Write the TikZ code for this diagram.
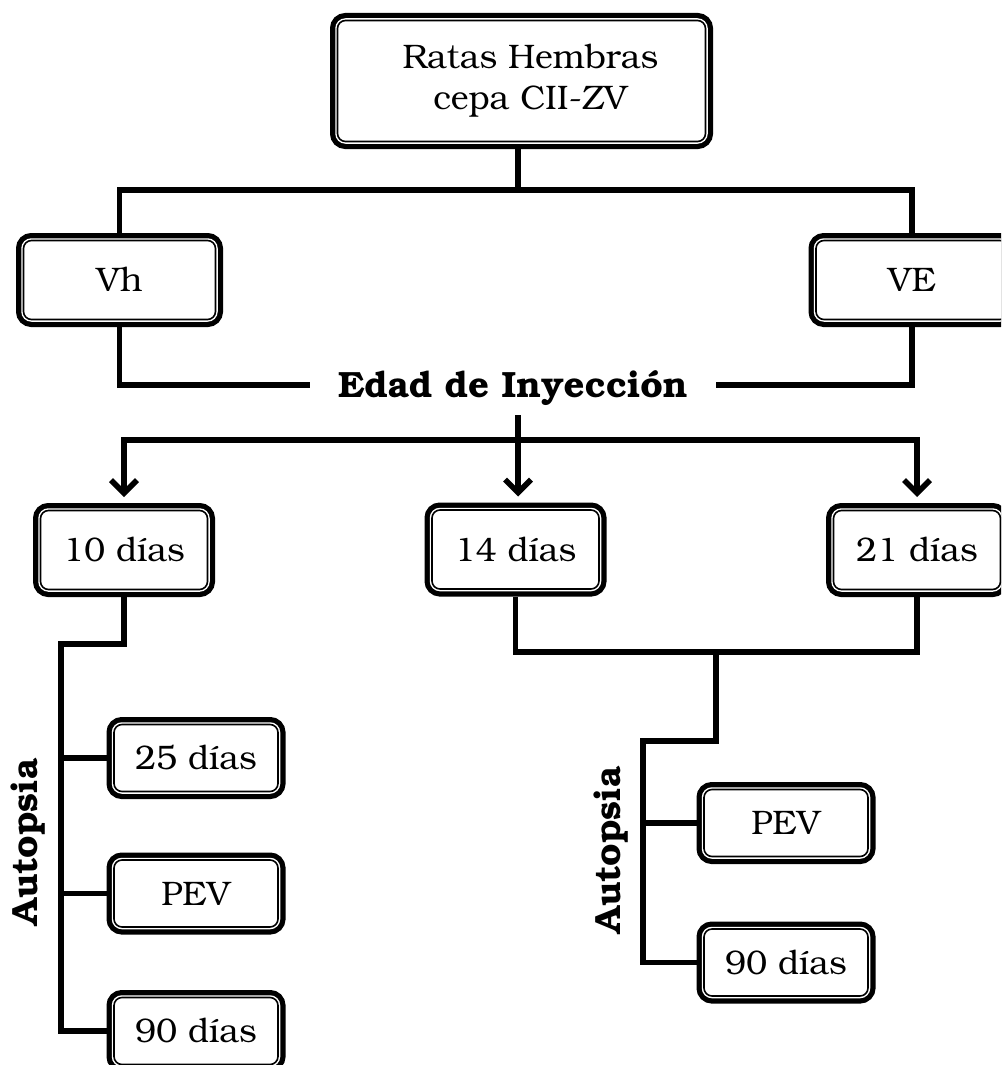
\documentclass[tikz,border=0pt]{standalone}
\usepackage[T1]{fontenc}
\usepackage{bookman}
\usetikzlibrary{arrows.meta}
\begin{document}
\begin{tikzpicture}[x=1pt,y=-1pt,
  box/.style={preaction={draw=black,line width=15pt},
    fill=white,draw=white,line width=4.5pt,
    postaction={draw=black,line width=1.6pt},
    rounded corners=8pt,outer sep=7.5pt,inner sep=0pt,
    font=\fontsize{34}{41}\selectfont,align=center},
  bigbox/.style={box,minimum width=368pt,minimum height=121pt},
  midbox/.style={box,minimum width=192pt,minimum height=79pt},
  daybox/.style={box,minimum width=167pt,minimum height=79pt},
  smallbox/.style={box,minimum width=164pt,minimum height=67pt},
  conn/.style={draw=black,line width=5.5pt},
  arr/.style={conn,-{Straight Barb[length=13pt,width=26pt]},shorten >=6pt},
  lbl/.style={font=\fontsize{36.5}{40}\selectfont\bfseries,inner sep=0pt}]
\useasboundingbox (0,0) rectangle (1001,1065);
\clip (0,0) rectangle (1001,1065);

% nodes
\node[bigbox] (top) at (521.5,81) {\hspace*{18pt}Ratas Hembras\\\hspace*{18pt}cepa CII-ZV};
\node[midbox] (vh) at (119.5,280) {Vh};
\node[midbox] (ve) at (912,280) {VE};
\node[lbl,anchor=base] (edad) at (513,397) {Edad de Inyecci\'on};
\node[daybox] (d10) at (124,550) {10 d\'{\i}as};
\node[daybox] (d14) at (515.5,549.5) {14 d\'{\i}as};
\node[daybox] (d21) at (917,550) {21 d\'{\i}as};
\node[smallbox] (l25) at (196,758) {25 d\'{\i}as};
\node[smallbox] (lpev) at (196,893.5) {PEV};
\node[smallbox] (l90) at (196,1031) {90 d\'{\i}as};
\node[smallbox] (rpev) at (786,823) {PEV};
\node[smallbox] (r90) at (786,962.5) {90 d\'{\i}as};
\node[lbl,rotate=90] (autl) at (28,842) {Autopsia};
\node[lbl,rotate=90] (autr) at (611,850) {Autopsia};

% helper coordinates
\coordinate (t1) at (518,190);
\coordinate (eL) at (310,385);
\coordinate (eR) at (716,385);
\coordinate (h) at (518,440);
\coordinate (m) at (518,415);
\coordinate (L1) at (61,644);
\coordinate (R1) at (716,652);
\coordinate (R2) at (643,741);

% connectors
\draw[conn] (t1 |- top.south) -- (t1);
\draw[conn] (vh.north) |- (t1) -| (ve.north);
\draw[conn] (vh.south) |- (eL);
\draw[conn] (ve.south) |- (eR);
\draw[arr] (h) -| (d10.north);
\draw[arr] (h) -| (d21.north);
\draw[arr] (m) -- (m |- d14.north);
\draw[conn] (d10.south) |- (L1) |- (l90.west);
\draw[conn] (l25.west -| L1) -- (l25.west);
\draw[conn] (lpev.west -| L1) -- (lpev.west);
\draw[conn] (d14.south) |- (R1) -| (d21.south);
\draw[conn] (R1) |- (R2) |- (r90.west);
\draw[conn] (rpev.west -| R2) -- (rpev.west);
\end{tikzpicture}
\end{document}
